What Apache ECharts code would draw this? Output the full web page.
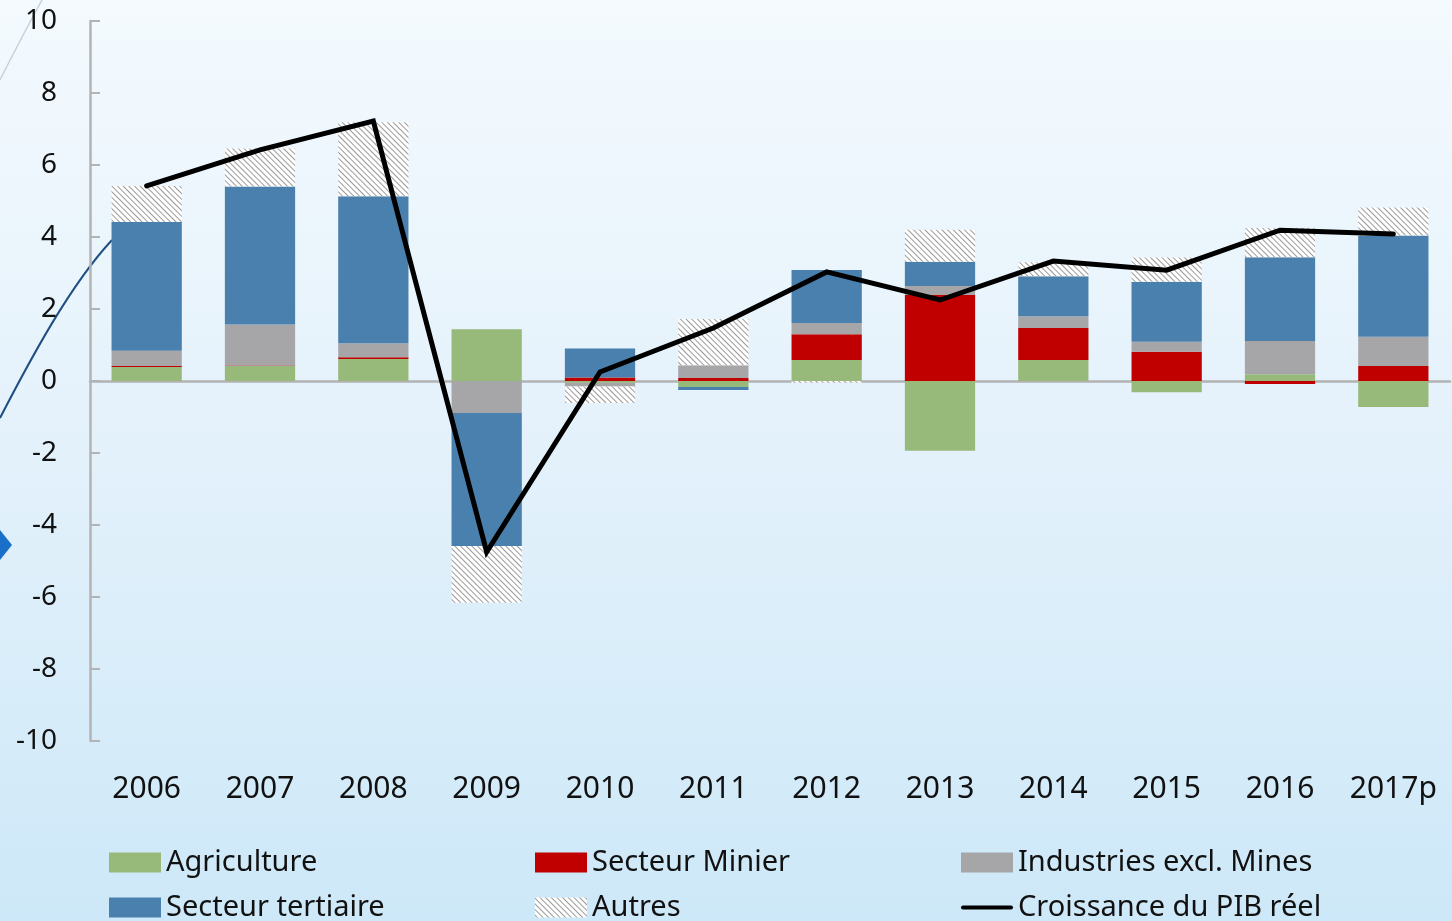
<!DOCTYPE html>
<html>
<head>
<meta charset="utf-8">
<style>
  html, body { margin: 0; padding: 0; }
  #chart { width: 1452px; height: 921px; }
</style>
<script src="https://cdn.jsdelivr.net/npm/echarts@6/dist/echarts.min.js"></script>
</head>
<body>
<div id="chart"></div>
<script>
// années
var years = ['2006', '2007', '2008', '2009', '2010', '2011', '2012', '2013', '2014', '2015', '2016', '2017p'];

// contributions à la croissance (points de %)
var agriculture = [0.39, 0.42, 0.61, 1.44, -0.05, -0.17, 0.58, -1.94, 0.58, -0.31, 0.19, -0.72];
var minier      = [0.03, 0.01, 0.05, 0.0, 0.1, 0.08, 0.72, 2.39, 0.89, 0.81, -0.08, 0.42];
var industries  = [0.42, 1.14, 0.39, -0.89, -0.1, 0.36, 0.31, 0.25, 0.33, 0.28, 0.92, 0.81];
var tertiaire   = [3.58, 3.83, 4.08, -3.69, 0.8, -0.08, 1.47, 0.67, 1.11, 1.67, 2.33, 2.81];
var autres      = [1.0, 1.06, 2.06, -1.58, -0.46, 1.28, -0.05, 0.89, 0.39, 0.67, 0.81, 0.78];
var pib         = [5.42, 6.42, 7.22, -4.75, 0.25, 1.47, 3.03, 2.25, 3.33, 3.08, 4.19, 4.08];

var yTicks = { min: -10, max: 10, interval: 2 };

var font = 'Noto Sans';
var axisGray = '#b3b3b3';

var chart = echarts.init(document.getElementById('chart'));

function barSerie(name, data, color, extra) {
  var s = {
    name: name,
    type: 'bar',
    stack: 'contrib',
    barWidth: '62%',
    data: data,
    itemStyle: { color: color },
    emphasis: { disabled: true }
  };
  if (extra) s.itemStyle = Object.assign(s.itemStyle, extra);
  return s;
}

chart.setOption({
  animation: false,
  backgroundColor: {
    type: 'linear', x: 0, y: 0, x2: 0, y2: 1,
    colorStops: [
      { offset: 0, color: '#f4fafe' },
      { offset: 0.5, color: '#e3f1fb' },
      { offset: 1, color: '#cde8f8' }
    ]
  },
  graphic: [
    { // décor : courbe claire en haut à gauche
      type: 'bezierCurve', z: -1,
      shape: { x1: 0, y1: 80, x2: 42, y2: 0, cpx1: 14, cpy1: 52, cpx2: 30, cpy2: 22 },
      style: { stroke: '#c5d3de', lineWidth: 1.5, fill: null }
    },
    { // décor : courbe bleue
      type: 'bezierCurve', z: -1,
      shape: { x1: 0, y1: 418, x2: 112, y2: 240, cpx1: 30, cpy1: 360, cpx2: 70, cpy2: 285 },
      style: { stroke: '#1f4e82', lineWidth: 2, fill: null }
    },
    { // décor : losange
      type: 'polygon', z: -1,
      shape: { points: [[-14, 545], [0, 530], [12, 545], [0, 560]] },
      style: { fill: '#1a6fc9' }
    }
  ],
  grid: { left: 90, right: 2, top: 21, bottom: 180, containLabel: false },
  legend: {
    left: 109,
    top: 840,
    padding: 0,
    width: 1340,
    itemWidth: 52,
    itemHeight: 20,
    itemGap: 0,
    selectedMode: false,
    textStyle: {
      fontFamily: font, fontSize: 29, color: '#111',
      width: 369, lineHeight: 45
    },
    data: [
      { name: 'Agriculture', icon: 'rect' },
      { name: 'Secteur Minier', icon: 'rect' },
      { name: 'Industries excl. Mines', icon: 'rect' },
      { name: 'Secteur tertiaire', icon: 'rect' },
      { name: 'Autres', icon: 'rect' },
      { name: 'Croissance du PIB réel', icon: 'path://M2,8 L50,8 A2,2 0 0 1 50,12 L2,12 A2,2 0 0 1 2,8 Z' }
    ]
  },
  xAxis: [
    {
      type: 'category',
      data: years,
      axisLine: { onZero: true, lineStyle: { color: axisGray, width: 2.5 } },
      axisTick: { inside: true, length: 10, lineStyle: { color: axisGray, width: 2 } },
      axisLabel: { show: false },
      splitLine: { show: false }
    },
    {
      type: 'category',
      data: years,
      position: 'bottom',
      axisLine: { show: false, onZero: false },
      axisTick: { show: false },
      axisLabel: { margin: 33, fontFamily: font, fontSize: 30, color: '#111' },
      splitLine: { show: false }
    }
  ],
  yAxis: {
    type: 'value',
    min: yTicks.min,
    max: yTicks.max,
    interval: yTicks.interval,
    axisLine: { show: true, lineStyle: { color: axisGray, width: 2.5 } },
    axisTick: { show: true, inside: true, length: 10, lineStyle: { color: axisGray, width: 2 } },
    axisLabel: { margin: 33, fontFamily: font, fontSize: 28, color: '#111' },
    splitLine: { show: false }
  },
  series: [
    barSerie('Agriculture', agriculture, '#97ba7a'),
    barSerie('Secteur Minier', minier, '#c00000'),
    barSerie('Industries excl. Mines', industries, '#a6a6a9'),
    barSerie('Secteur tertiaire', tertiaire, '#4a80ad'),
    barSerie('Autres', autres, '#ffffff', {
      decal: {
        symbol: 'rect',
        symbolSize: 1,
        dashArrayX: [1, 0],
        dashArrayY: [1, 2.5],
        rotation: Math.PI / 4,
        color: '#9a9a9a'
      }
    }),
    {
      name: 'Croissance du PIB réel',
      type: 'line',
      data: pib,
      symbol: 'none',
      z: 10,
      itemStyle: { color: '#000' },
      lineStyle: { color: '#000', width: 5, cap: 'round', join: 'miter' },
      emphasis: { disabled: true }
    }
  ]
});
</script>
</body>
</html>
